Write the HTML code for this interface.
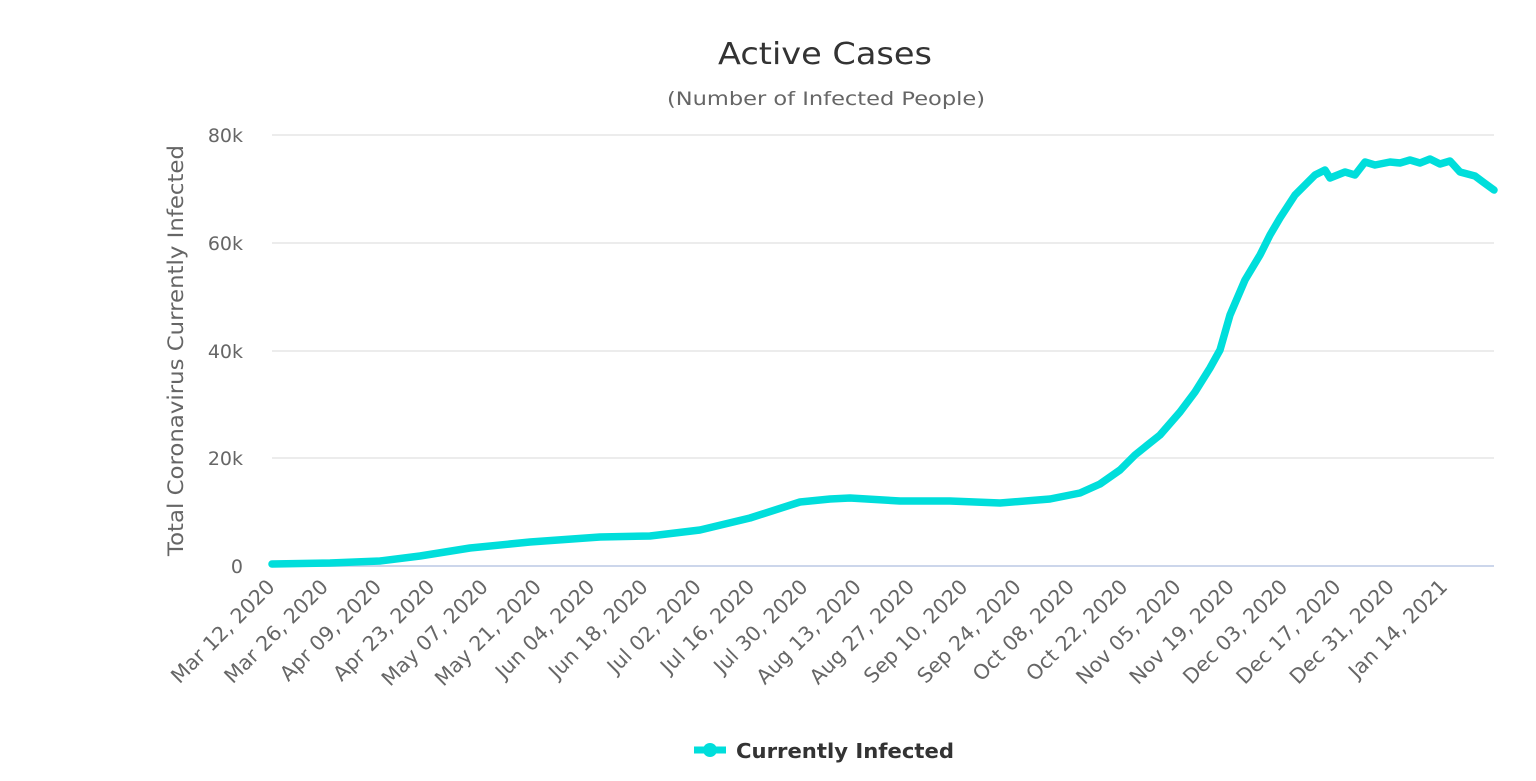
<!DOCTYPE html>
<html><head><meta charset="utf-8"><style>
body{margin:0;background:#fff;}
svg{display:block;font-family:"DejaVu Sans","Liberation Sans",sans-serif;}
</style></head><body>
<svg width="1536" height="781" viewBox="0 0 1536 781">
<text x="718" y="64" font-size="30" fill="#333" textLength="214" lengthAdjust="spacingAndGlyphs">Active Cases</text>
<text x="667" y="105" font-size="19" fill="#666" textLength="318" lengthAdjust="spacingAndGlyphs">(Number of Infected People)</text>
<g stroke="#e6e6e6" stroke-width="1.5">
<line x1="272" x2="1494" y1="135" y2="135"/>
<line x1="272" x2="1494" y1="243" y2="243"/>
<line x1="272" x2="1494" y1="351" y2="351"/>
<line x1="272" x2="1494" y1="458" y2="458"/>
</g>
<line x1="272" x2="1494" y1="566" y2="566" stroke="#ccd6eb" stroke-width="2"/>
<g font-size="19" fill="#666" text-anchor="end">
<text x="243" y="142">80k</text>
<text x="243" y="250">60k</text>
<text x="243" y="358">40k</text>
<text x="243" y="465">20k</text>
<text x="243" y="573">0</text>
</g>
<text transform="translate(183,556) rotate(-90)" font-size="21" fill="#666" textLength="411" lengthAdjust="spacingAndGlyphs">Total Coronavirus Currently Infected</text>
<g font-size="20.5" fill="#666" text-anchor="end">
<text transform="translate(276,588) rotate(-45)">Mar 12, 2020</text>
<text transform="translate(329.3,588) rotate(-45)">Mar 26, 2020</text>
<text transform="translate(382.6,588) rotate(-45)">Apr 09, 2020</text>
<text transform="translate(435.9,588) rotate(-45)">Apr 23, 2020</text>
<text transform="translate(489.2,588) rotate(-45)">May 07, 2020</text>
<text transform="translate(542.5,588) rotate(-45)">May 21, 2020</text>
<text transform="translate(595.8,588) rotate(-45)">Jun 04, 2020</text>
<text transform="translate(649.1,588) rotate(-45)">Jun 18, 2020</text>
<text transform="translate(702.4,588) rotate(-45)">Jul 02, 2020</text>
<text transform="translate(755.7,588) rotate(-45)">Jul 16, 2020</text>
<text transform="translate(809,588) rotate(-45)">Jul 30, 2020</text>
<text transform="translate(862.3,588) rotate(-45)">Aug 13, 2020</text>
<text transform="translate(915.6,588) rotate(-45)">Aug 27, 2020</text>
<text transform="translate(968.9,588) rotate(-45)">Sep 10, 2020</text>
<text transform="translate(1022.2,588) rotate(-45)">Sep 24, 2020</text>
<text transform="translate(1075.5,588) rotate(-45)">Oct 08, 2020</text>
<text transform="translate(1128.8,588) rotate(-45)">Oct 22, 2020</text>
<text transform="translate(1182.1,588) rotate(-45)">Nov 05, 2020</text>
<text transform="translate(1235.4,588) rotate(-45)">Nov 19, 2020</text>
<text transform="translate(1288.7,588) rotate(-45)">Dec 03, 2020</text>
<text transform="translate(1342,588) rotate(-45)">Dec 17, 2020</text>
<text transform="translate(1395.3,588) rotate(-45)">Dec 31, 2020</text>
<text transform="translate(1448.6,588) rotate(-45)">Jan 14, 2021</text>
</g>
<polyline fill="none" stroke="#00dedb" stroke-width="7.5" stroke-linejoin="round" stroke-linecap="round" points="272,564 330,563 380,561 420,556 470,548 530,542 600,537 650,536 700,530 750,518 800,502 830,499 850,498 900,501 950,501 1000,503 1050,499 1080,493 1100,484 1120,470 1135,455 1160,435 1180,412 1195,392 1210,368 1220,350 1230,315 1245,280 1260,255 1270,235 1280,218 1295,195 1305,185 1315,175 1325,170 1330,178 1345,172 1355,175 1365,162 1375,165 1390,162 1400,163 1410,160 1420,163 1430,159 1440,164 1450,161 1460,172 1475,176 1483,182 1494,190"/>
<line x1="694" x2="726" y1="750" y2="750" stroke="#00dedb" stroke-width="7"/>
<circle cx="710" cy="750" r="7" fill="#00dedb"/>
<text x="736" y="758" font-size="20" font-weight="bold" fill="#333" textLength="218" lengthAdjust="spacingAndGlyphs">Currently Infected</text>
</svg>
</body></html>
